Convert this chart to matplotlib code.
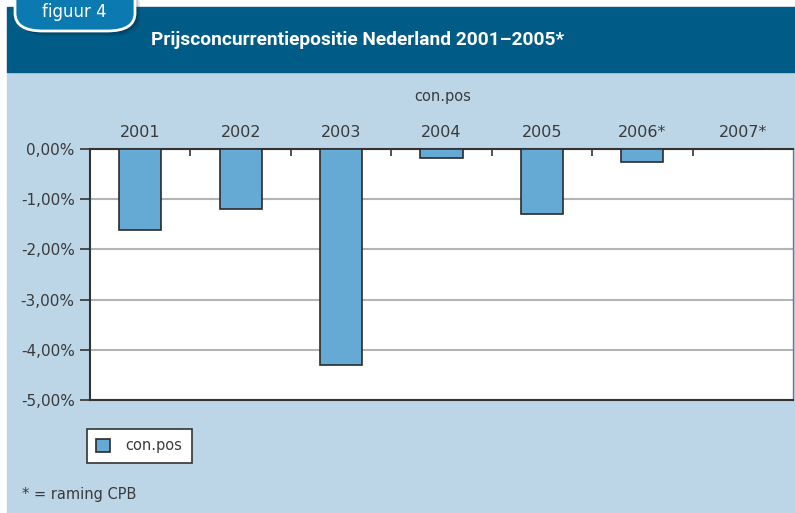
import matplotlib
matplotlib.use("Agg")
import matplotlib.pyplot as plt
from matplotlib.patches import Rectangle, FancyBboxPatch
from matplotlib.ticker import FuncFormatter, FixedLocator

years = ["2001", "2002", "2003", "2004", "2005", "2006*", "2007*"]
con_pos = [-1.62, -1.20, -4.31, -0.18, -1.30, -0.25, 0.0]
y_ticks = [0, -1, -2, -3, -4, -5]

W, H = 795, 513
dark_blue = "#005b87"
light_blue = "#bcd6e8"
bar_blue = "#64aad4"
tab_blue = "#0b7ab0"
text_col = "#3a3a3a"

fig = plt.figure(figsize=(W / 100, H / 100), dpi=100)
fig.patch.set_facecolor("white")


def px(x, y):
    # pixel coordinates (top-left origin) to figure fraction
    return x / W, 1 - y / H


# background bands
fig.patches.append(Rectangle(px(7, 513), (W - 7) / W, (513 - 72) / H,
                             transform=fig.transFigure, color=light_blue, zorder=0))
fig.patches.append(Rectangle(px(7, 72), (W - 7) / W, 65 / H,
                             transform=fig.transFigure, color=dark_blue, zorder=0))

# tab "figuur 4" with a soft shadow
for off, a in [(5, 0.10), (3, 0.15)]:
    fig.patches.append(FancyBboxPatch(px(15 + off, 31 + off), 120 / W, 50 / H,
                                      boxstyle="round,pad=0,rounding_size=0.035",
                                      transform=fig.transFigure, facecolor="black",
                                      edgecolor="none", alpha=a, zorder=1))
fig.patches.append(FancyBboxPatch(px(15, 31), 120 / W, 50 / H,
                                  boxstyle="round,pad=0,rounding_size=0.035",
                                  transform=fig.transFigure, facecolor=tab_blue,
                                  edgecolor="white", linewidth=2, zorder=2))
fig.text(*px(74, 12), "figuur 4", color="white", fontsize=12,
         ha="center", va="center", zorder=3)

fig.text(*px(358, 40), "Prijsconcurrentiepositie Nederland 2001\u20132005*",
         color="white", fontsize=13.8, fontweight="bold", family="Roboto",
         ha="center", va="center")

fig.text(*px(443, 97), "con.pos", color=text_col, fontsize=10.5,
         ha="center", va="center")

ax = fig.add_axes([90 / W, 1 - 400 / H, 703 / W, 251 / H])
ax.set_zorder(5)
ax.set_facecolor("white")
x = range(len(years))
ax.bar(x, con_pos, width=0.42, color=bar_blue, edgecolor="#2b2b2b",
       linewidth=1.2, zorder=3, label="con.pos")

ax.set_xlim(-0.5, len(years) - 0.5)
ax.set_ylim(-5, 0)
ax.set_yticks(y_ticks)
ax.yaxis.set_major_formatter(FuncFormatter(lambda v, p: f"{v:.2f}%".replace(".", ",")))
ax.grid(axis="y", color="#b4b4b4", linewidth=1.5, zorder=1)

ax.xaxis.tick_top()
ax.set_xticks(list(x))
ax.set_xticklabels(years)
ax.xaxis.set_minor_locator(FixedLocator([i + 0.5 for i in range(len(years) - 1)]))
ax.tick_params(axis="x", which="major", length=0, pad=6.5, labelsize=11.5, labelcolor=text_col)
ax.tick_params(axis="x", which="minor", direction="in", length=5, width=1.2, color="#333333")
ax.tick_params(axis="y", direction="out", length=7, width=1.2, color="#333333",
               labelsize=11, labelcolor=text_col, pad=4)

for side in ["top", "left", "bottom"]:
    ax.spines[side].set_color("#333333")
    ax.spines[side].set_linewidth(1.5)
ax.spines["right"].set_color("#777777")
ax.spines["right"].set_linewidth(1)

leg = ax.legend(loc="upper left", bbox_to_anchor=px(87, 429), bbox_transform=fig.transFigure,
                borderaxespad=0, fancybox=False, frameon=True, framealpha=1,
                handlelength=0.9, handleheight=0.9, handletextpad=1.1, borderpad=0.65,
                fontsize=10.5)
leg.get_frame().set_facecolor("white")
leg.get_frame().set_edgecolor("#333333")
leg.get_frame().set_linewidth(1.2)
for t in leg.get_texts():
    t.set_color(text_col)

fig.text(*px(22, 494), "* = raming CPB", color=text_col, fontsize=10.5,
         ha="left", va="center")

fig.savefig("out.png", dpi=100, facecolor=fig.get_facecolor())
